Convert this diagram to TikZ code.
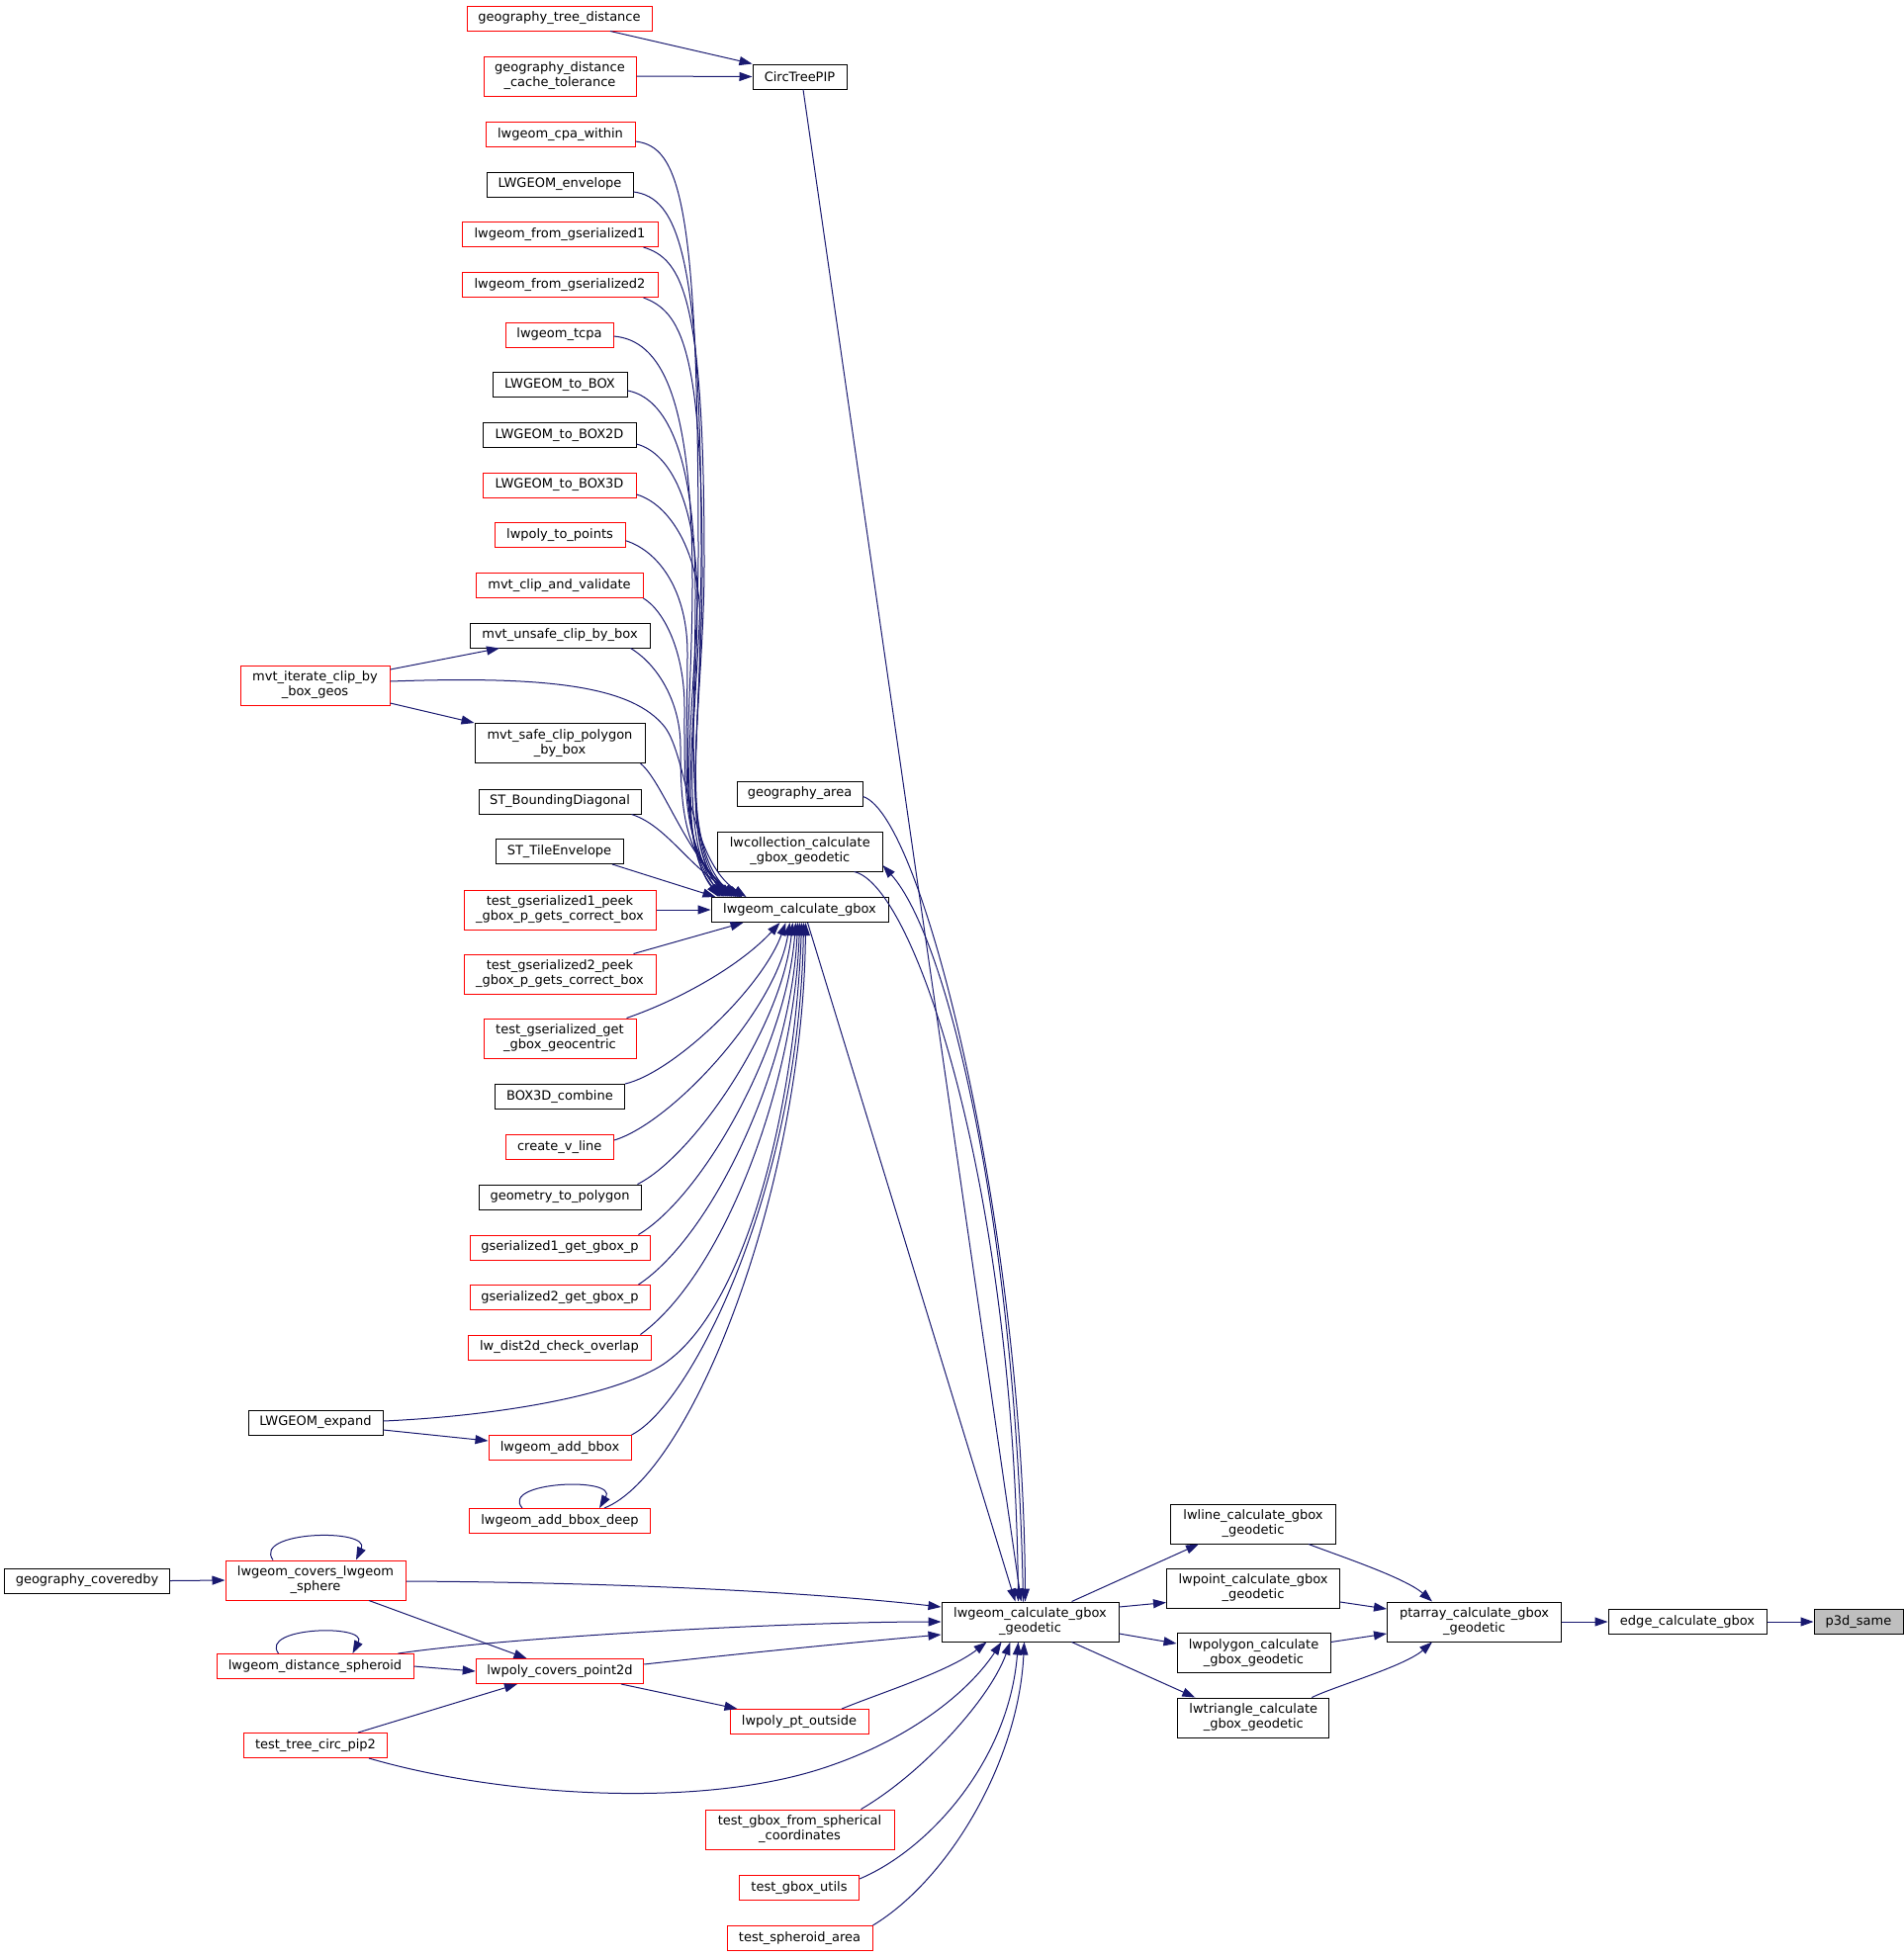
\documentclass[tikz,border=0pt]{standalone}
\usepackage{fontspec}
\setmainfont{DejaVu Sans}
\usetikzlibrary{arrows.meta}
\definecolor{edgeblue}{HTML}{191970}
\definecolor{nodered}{HTML}{FF0000}
\definecolor{selgray}{HTML}{BFBFBF}
\begin{document}
\begin{tikzpicture}[x=1pt,y=-1pt,
  nb/.style={draw=black, line width=1pt, fill=white, inner sep=0pt, align=center,
             minimum height=25pt, font=\fontsize{13}{15}\selectfont},
  rb/.style={nb, draw=nodered},
  two/.style={minimum height=40pt},
  e/.style={draw=edgeblue, line width=1pt, -{Triangle[length=13pt,width=9pt]}},
]
\useasboundingbox (0,0) rectangle (1925,1979);
\fill[white] (0,0) rectangle (1925,1979);

% ---------- nodes ----------
\node[rb, minimum width=187pt] (gtd) at (565.5,18.5) {geography\_tree\_distance};
\node[rb, two, minimum width=154pt] (gdct) at (566,77) {geography\_distance\\\_cache\_tolerance};
\node[nb, minimum width=95pt] (ctp) at (808.5,77.5) {CircTreePIP};
\node[rb, minimum width=151pt] (cpa) at (566.5,136) {lwgeom\_cpa\_within};
\node[nb, minimum width=148pt] (env) at (566,186.5) {LWGEOM\_envelope};
\node[rb, minimum width=198pt] (fg1) at (566,237) {lwgeom\_from\_gserialized1};
\node[rb, minimum width=198pt] (fg2) at (566,288) {lwgeom\_from\_gserialized2};
\node[rb, minimum width=109pt] (tcpa) at (565.5,338.5) {lwgeom\_tcpa};
\node[nb, minimum width=136pt] (tobox) at (566,389) {LWGEOM\_to\_BOX};
\node[nb, minimum width=155pt] (tobox2d) at (565.5,440) {LWGEOM\_to\_BOX2D};
\node[rb, minimum width=155pt] (tobox3d) at (565.5,490.5) {LWGEOM\_to\_BOX3D};
\node[rb, minimum width=132pt] (ltp) at (566,541) {lwpoly\_to\_points};
\node[rb, minimum width=169pt] (mcv) at (565.5,592) {mvt\_clip\_and\_validate};
\node[nb, minimum width=182pt] (mucb) at (566,642.5) {mvt\_unsafe\_clip\_by\_box};
\node[rb, two, minimum width=151pt] (mic) at (318.5,693) {mvt\_iterate\_clip\_by\\\_box\_geos};
\node[nb, two, minimum width=172pt] (msc) at (566,751.5) {mvt\_safe\_clip\_polygon\\\_by\_box};
\node[nb, minimum width=164pt] (sbd) at (566,810.5) {ST\_BoundingDiagonal};
\node[nb, minimum width=129pt] (ste) at (565.5,861) {ST\_TileEnvelope};
\node[rb, two, minimum width=194pt] (pk1) at (566,920) {test\_gserialized1\_peek\\\_gbox\_p\_gets\_correct\_box};
\node[nb, minimum width=179pt] (gbox) at (808.5,920) {lwgeom\_calculate\_gbox};
\node[rb, two, minimum width=194pt] (pk2) at (566,985) {test\_gserialized2\_peek\\\_gbox\_p\_gets\_correct\_box};
\node[rb, two, minimum width=154pt] (geoc) at (566,1050) {test\_gserialized\_get\\\_gbox\_geocentric};
\node[nb, minimum width=131pt] (b3c) at (566,1109) {BOX3D\_combine};
\node[rb, minimum width=109.5pt] (cvl) at (565.75,1160) {create\_v\_line};
\node[nb, minimum width=164pt] (g2p) at (566,1210.5) {geometry\_to\_polygon};
\node[rb, minimum width=182pt] (g1gb) at (566,1261.5) {gserialized1\_get\_gbox\_p};
\node[rb, minimum width=182pt] (g2gb) at (566,1312) {gserialized2\_get\_gbox\_p};
\node[rb, minimum width=185pt] (ldco) at (565.5,1362.5) {lw\_dist2d\_check\_overlap};
\node[nb, minimum width=136pt] (lexp) at (319,1438.5) {LWGEOM\_expand};
\node[rb, minimum width=144pt] (lab) at (566,1464) {lwgeom\_add\_bbox};
\node[rb, minimum width=183pt] (labd) at (566,1538) {lwgeom\_add\_bbox\_deep};
\node[nb, minimum width=166.5pt] (gcb) at (88,1598.5) {geography\_coveredby};
\node[rb, two, minimum width=182pt] (lcls) at (319,1598) {lwgeom\_covers\_lwgeom\\\_sphere};
\node[rb, minimum width=199pt] (lds) at (318.5,1685) {lwgeom\_distance\_spheroid};
\node[rb, minimum width=169.5pt] (lpcp) at (566,1690) {lwpoly\_covers\_point2d};
\node[rb, minimum width=140pt] (lppo) at (808,1741) {lwpoly\_pt\_outside};
\node[rb, minimum width=144.6pt] (ttcp) at (319,1765) {test\_tree\_circ\_pip2};
\node[rb, two, minimum width=191pt] (tgfs) at (808.5,1850) {test\_gbox\_from\_spherical\\\_coordinates};
\node[rb, minimum width=121pt] (tgu) at (808,1909) {test\_gbox\_utils};
\node[rb, minimum width=147pt] (tsa) at (808.5,1960) {test\_spheroid\_area};
\node[nb, minimum width=127pt] (garea) at (808.5,802.5) {geography\_area};
\node[nb, two, minimum width=166.4pt] (lcoll) at (808.8,861) {lwcollection\_calculate\\\_gbox\_geodetic};
\node[nb, two, minimum width=179pt] (geod) at (1041.5,1640) {lwgeom\_calculate\_gbox\\\_geodetic};
\node[nb, two, minimum width=167pt] (lline) at (1267,1541) {lwline\_calculate\_gbox\\\_geodetic};
\node[nb, two, minimum width=175pt] (lpoint) at (1267,1606) {lwpoint\_calculate\_gbox\\\_geodetic};
\node[nb, two, minimum width=155pt] (lpoly) at (1267.5,1671.5) {lwpolygon\_calculate\\\_gbox\_geodetic};
\node[nb, two, minimum width=153pt] (ltri) at (1267.3,1737) {lwtriangle\_calculate\\\_gbox\_geodetic};
\node[nb, two, minimum width=176pt] (ptarr) at (1490.5,1640) {ptarray\_calculate\_gbox\\\_geodetic};
\node[nb, minimum width=160pt] (ecg) at (1706,1640) {edge\_calculate\_gbox};
\node[nb, fill=selgray, minimum width=90pt] (p3d) at (1879,1640) {p3d\_same};

% ---------- edges: top area ----------
\draw[e] ([xshift=51.5pt]gtd.south) -- (ctp.north west);
\draw[e] (gdct.east) -- (ctp.west);
\draw[e] ([xshift=3.5pt]ctp.south) -- ([xshift=-9pt]geod.north);
\draw[e] ([yshift=16pt]mic.east) -- ([xshift=-61pt]mucb.south);
\draw[e] ([yshift=-18pt]mic.east) -- (msc.north west);

% ---------- edges into lwgeom_calculate_gbox (from above) ----------
\draw[e] ([yshift=-7pt]cpa.east) .. controls (687,148) and (706,203) .. (706,560)
         .. controls (706,700) and (678,840) .. ([xshift=8pt]gbox.north west);
\draw[e] ([yshift=-7.5pt]env.east) .. controls (685,200) and (709,254) .. (709,560)
         .. controls (709,700) and (681,840) .. ([xshift=12pt]gbox.north west);
\draw[e] ([xshift=-15pt]fg1.south east) .. controls (690,262) and (712,300) .. (712,570)
         .. controls (712,710) and (684,845) .. ([xshift=16pt]gbox.north west);
\draw[e] ([xshift=-15pt]fg2.south east) .. controls (688,315) and (710,350) .. (710,580)
         .. controls (710,720) and (686,850) .. ([xshift=20pt]gbox.north west);
\draw[e] ([yshift=-1.5pt]tcpa.east) .. controls (668,344) and (700,400) .. (700,590)
         .. controls (700,730) and (680,850) .. ([xshift=14pt]gbox.north west);
\draw[e] ([yshift=-6pt]tobox.east) .. controls (672,402) and (703,455) .. (703,600)
         .. controls (703,740) and (690,855) .. ([xshift=24pt]gbox.north west);
\draw[e] ([yshift=-9pt]tobox2d.east) .. controls (678,458) and (705,510) .. (705,610)
         .. controls (705,740) and (682,850) .. ([xshift=10pt]gbox.north west);
\draw[e] ([yshift=-9.5pt]tobox3d.east) .. controls (678,510) and (708,560) .. (708,630)
         .. controls (708,750) and (688,855) .. ([xshift=18pt]gbox.north west);
\draw[e] ([yshift=-5.7pt]ltp.east) .. controls (668,558) and (695,600) .. (695,660)
         .. controls (695,780) and (685,860) .. ([xshift=22pt]gbox.north west);
\draw[e] (mcv.south east) .. controls (672,618) and (692,660) .. (692,715)
         .. controls (692,800) and (690,865) .. ([xshift=26pt]gbox.north west);
\draw[e] ([xshift=-20pt]mucb.south east) .. controls (665,672) and (688,710) .. (688,755)
         .. controls (688,820) and (692,870) .. ([xshift=30pt]gbox.north west);
\draw[e] ([yshift=4pt]mic.east) .. controls (560,683) and (640,695) .. (672,735)
         .. controls (695,765) and (698,870) .. ([xshift=36pt]gbox.north west);
\draw[e] ([xshift=-5pt]msc.south east) .. controls (670,790) and (696,870) .. ([xshift=28pt]gbox.north west);
\draw[e] ([xshift=-10pt]sbd.south east) .. controls (675,835) and (698,880) .. ([xshift=32pt]gbox.north west);
\draw[e] ([xshift=-11.5pt]ste.south east) -- ([xshift=5pt]gbox.north west);
\draw[e] (pk1.east) -- (gbox.west);

% ---------- edges into lwgeom_calculate_gbox (from below) ----------
\draw[e] ([xshift=-23pt]pk2.north east) -- ([xshift=33pt]gbox.south west);
\draw[e] ([xshift=-10pt]geoc.north east) .. controls (690,1010) and (750,975) .. ([xshift=70pt]gbox.south west);
\draw[e] (b3c.north east) .. controls (680,1085) and (770,1000) .. ([xshift=76pt]gbox.south west);
\draw[e] ([yshift=7pt]cvl.east) .. controls (680,1135) and (785,1020) .. ([xshift=80pt]gbox.south west);
\draw[e] ([xshift=-4pt]g2p.north east) .. controls (700,1170) and (790,1040) .. ([xshift=83pt]gbox.south west);
\draw[e] ([xshift=-12pt]g1gb.north east) .. controls (710,1210) and (795,1060) .. ([xshift=86pt]gbox.south west);
\draw[e] ([xshift=-12pt]g2gb.north east) .. controls (720,1250) and (800,1080) .. ([xshift=88pt]gbox.south west);
\draw[e] ([xshift=-11pt]ldco.north east) .. controls (730,1290) and (803,1100) .. ([xshift=90pt]gbox.south west);
\draw[e] ([yshift=1.5pt]lexp.east) .. controls (500,1432) and (620,1412) .. (670,1380)
         .. controls (760,1320) and (805,1100) .. ([xshift=92pt]gbox.south west);
\draw[e] (lab.north east) .. controls (700,1420) and (808,1200) .. ([xshift=94pt]gbox.south west);
\draw[e] ([xshift=-47pt]labd.north east) .. controls (700,1490) and (812,1200) .. ([xshift=96pt]gbox.south west);
\draw[e] ([yshift=-7.5pt]lexp.east) -- ([yshift=7pt]lab.west);
\draw[e] ([xshift=-38pt]labd.north) .. controls (505,1498) and (625,1493) .. ([xshift=40pt]labd.north);

% ---------- edges into lwgeom_calculate_gbox_geodetic ----------
\draw[e] ([xshift=8pt]gbox.south) -- ([xshift=-15pt]geod.north);
\draw[e] ([yshift=-3pt]garea.east) .. controls (935,825) and (1035,1250) .. ([xshift=-5pt]geod.north);
\draw[e] ([xshift=-29pt]lcoll.south east) .. controls (925,895) and (1025,1200) .. ([xshift=-12pt]geod.north);
\draw[e] ([xshift=-7pt]geod.north) .. controls (1028,1250) and (960,950) .. ([yshift=-14pt]lcoll.east);
\draw[e] (gcb.east) -- (lcls.west);
\draw[e] ([xshift=-43pt]lcls.north) .. controls (255,1548) and (375,1545) .. ([xshift=41pt]lcls.north);
\draw[e] ([xshift=-37pt]lds.north) .. controls (262,1645) and (372,1642) .. ([xshift=38pt]lds.north);
\draw[e] ([yshift=-1pt]lcls.east) .. controls (600,1600) and (800,1608) .. ([yshift=15pt]geod.west);
\draw[e] ([xshift=84pt]lds.north) .. controls (520,1655) and (800,1640) .. (geod.west);
\draw[e] ([yshift=7pt]lpcp.east) .. controls (750,1672) and (850,1662) .. ([yshift=-13pt]geod.west);
\draw[e] (lds.east) -- (lpcp.west);
\draw[e] ([xshift=54pt]lcls.south) -- ([xshift=-33.5pt]lpcp.north);
\draw[e] ([xshift=43pt]ttcp.north) -- ([xshift=-43pt]lpcp.south);
\draw[e] ([xshift=62pt]lpcp.south) -- ([xshift=8pt]lppo.north west);
\draw[e] ([xshift=43pt]lppo.north) .. controls (890,1712) and (960,1690) .. ([xshift=46pt]geod.south west);
\draw[e] ([xshift=54pt]ttcp.south) .. controls (500,1815) and (700,1830) .. (829,1789)
         .. controls (920,1760) and (980,1710) .. ([xshift=61pt]geod.south west);
\draw[e] ([xshift=62pt]tgfs.north) .. controls (930,1795) and (1000,1720) .. ([xshift=70pt]geod.south west);
\draw[e] ([yshift=9pt]tgu.east) .. controls (940,1870) and (1020,1780) .. ([xshift=78pt]geod.south west);
\draw[e] (tsa.north east) .. controls (960,1900) and (1030,1780) .. ([xshift=84pt]geod.south west);

% ---------- right side ----------
\draw[e] ([xshift=42pt]geod.north) -- ([xshift=-55pt]lline.south);
\draw[e] ([yshift=15pt]geod.east) -- ([yshift=-14.5pt]lpoint.west);
\draw[e] ([yshift=-12pt]geod.east) -- ([yshift=9.5pt]lpoly.west);
\draw[e] ([xshift=42pt]geod.south) -- ([xshift=-59pt]ltri.north);
\draw[e] ([xshift=56pt]lline.south) .. controls (1350,1572) and (1420,1595) .. ([xshift=-42.5pt]ptarr.north);
\draw[e] ([yshift=-14pt]lpoint.east) -- ([yshift=13pt]ptarr.west);
\draw[e] ([yshift=11pt]lpoly.east) -- ([yshift=-12pt]ptarr.west);
\draw[e] ([xshift=59pt]ltri.north) .. controls (1350,1705) and (1420,1685) .. ([xshift=-42.5pt]ptarr.south);
\draw[e] (ptarr.east) -- (ecg.west);
\draw[e] (ecg.east) -- (p3d.west);
\end{tikzpicture}
\end{document}
